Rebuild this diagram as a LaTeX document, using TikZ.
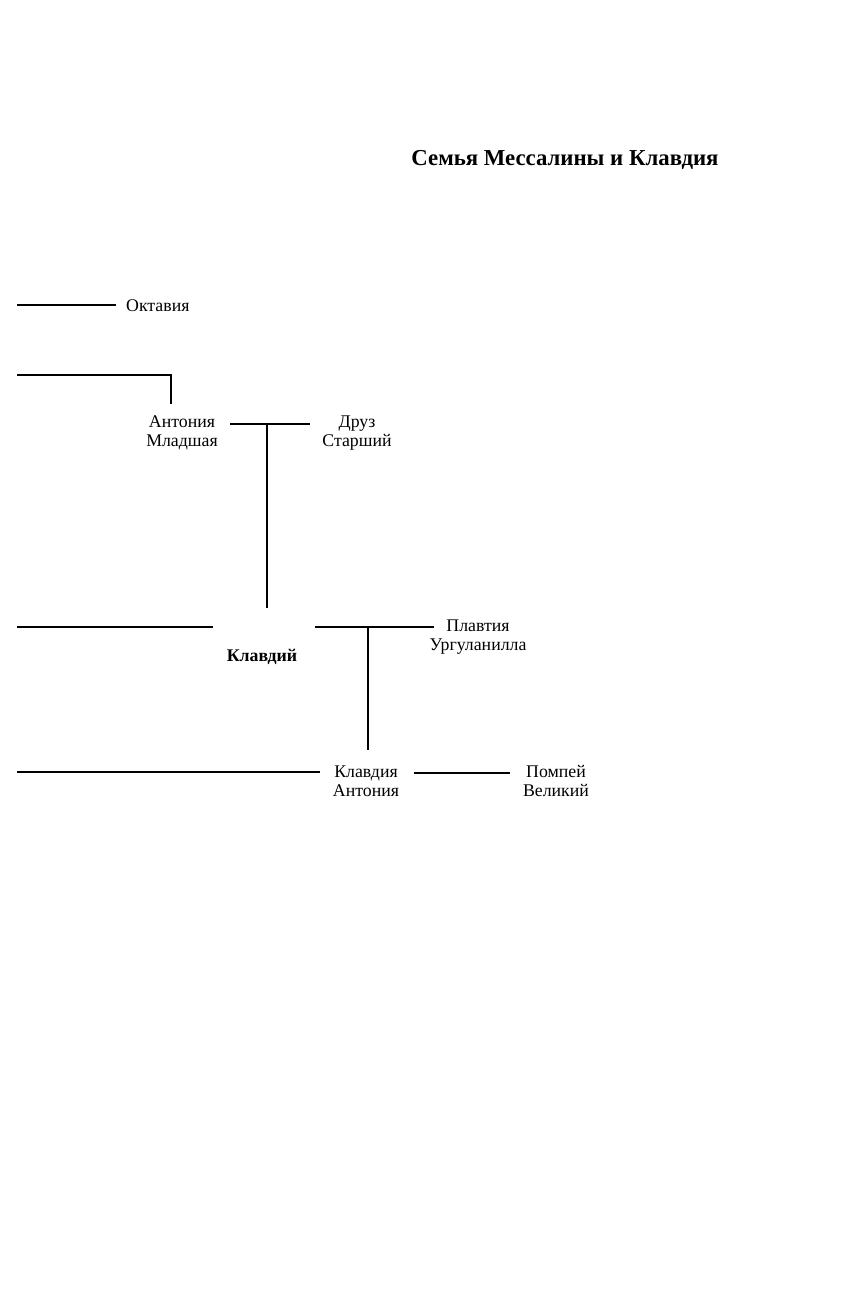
\documentclass[tikz,border=0pt]{standalone}
\usepackage{fontspec}
\setmainfont{Liberation Serif}
\begin{document}
\begin{tikzpicture}[x=1pt,y=-1pt,
  lbl/.style={inner sep=0pt,align=center,font=\fontsize{17.8}{18.5}\selectfont},
  ttl/.style={inner sep=0pt,font=\fontsize{22.8}{26}\selectfont\bfseries},
  ln/.style={line width=2pt}]
\useasboundingbox (0,0) rectangle (862,1299);
\node[ttl] (title) at (565,160) {Семья Мессалины и Клавдия};
% nodes
\node[lbl,anchor=west] (oct) at (126,306) {Октавия};
\node[lbl] (ant) at (182,433) {Антония\\Младшая};
\node[lbl] (druz) at (357,433) {Друз\\Старший};
\node[lbl,font=\fontsize{17.8}{18.5}\selectfont\bfseries] (klav) at (262,657) {Клавдий};
\node[lbl] (plav) at (478,637) {Плавтия\\Ургуланилла};
\node[lbl] (klavant) at (366,781) {Клавдия\\Антония};
\node[lbl] (pomp) at (556,781) {Помпей\\Великий};
% coordinates
\coordinate (l1) at (17,305);
\coordinate (l1e) at (116,305);
\coordinate (l2) at (17,375);
\coordinate (l2c) at (171,375);
\coordinate (l2e) at (171,404);
\coordinate (m1a) at (230,424);
\coordinate (m1b) at (310,424);
\coordinate (m1c) at (267,424);
\coordinate (m1d) at (267,608);
\coordinate (l3) at (17,627);
\coordinate (l3e) at (213,627);
\coordinate (m2a) at (315,627);
\coordinate (m2b) at (434,627);
\coordinate (m2c) at (368,627);
\coordinate (m2d) at (368,750);
\coordinate (l4) at (17,772);
\coordinate (l4e) at (320,772);
\coordinate (m3a) at (414,773);
\coordinate (m3b) at (510,773);
% connectors
\draw[ln] (l1) -- (l1e);
\draw[ln] (l2) -- (l2c) -- (l2e);
\draw[ln] (m1a) -- (m1b);
\draw[ln] (m1c) -- (m1d);
\draw[ln] (l3) -- (l3e);
\draw[ln] (m2a) -- (m2b);
\draw[ln] (m2c) -- (m2d);
\draw[ln] (l4) -- (l4e);
\draw[ln] (m3a) -- (m3b);
\end{tikzpicture}
\end{document}
